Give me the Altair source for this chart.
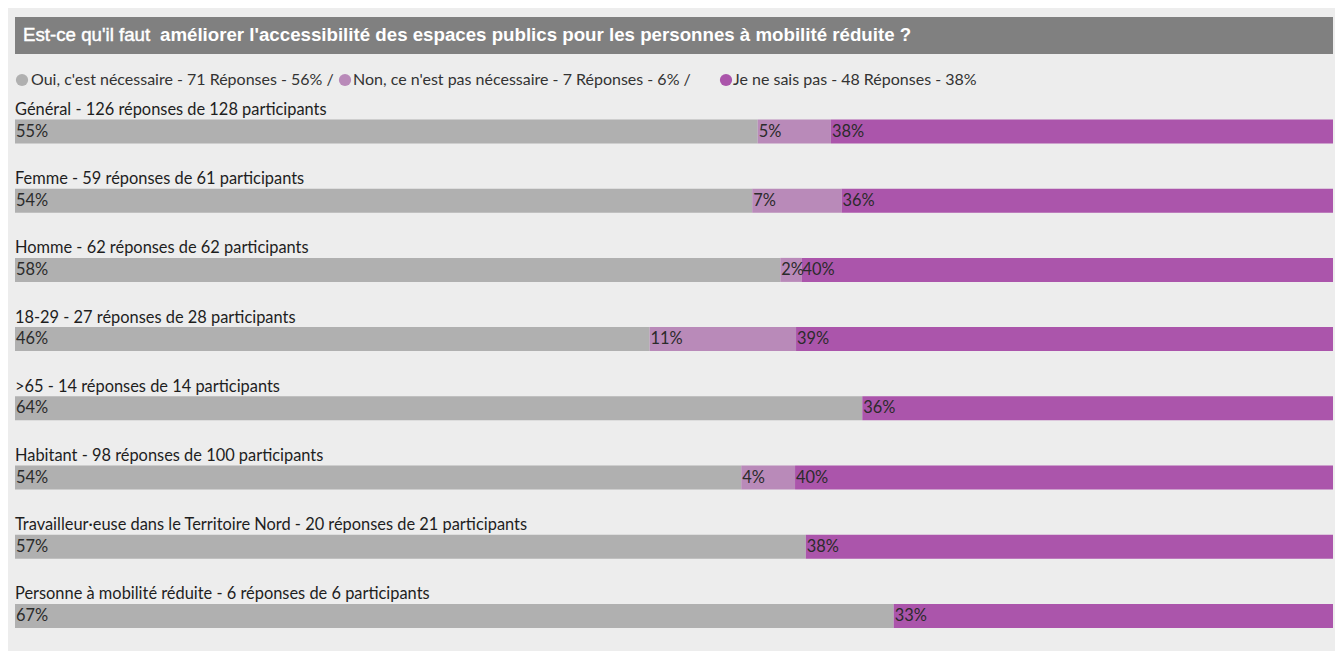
import altair as alt
import pandas as pd

# ---- data ----
rows = [
    "Général",
    "Femme",
    "Homme",
    "18-29",
    ">65",
    "Habitant",
    "Travailleur·euse dans le Territoire Nord",
    "Personne à mobilité réduite",
]
participants = [128, 61, 62, 28, 14, 100, 21, 6]
oui = [71, 33, 36, 13, 9, 54, 12, 4]
non = [7, 4, 1, 3, 0, 4, 0, 0]
nsp = [48, 22, 25, 11, 5, 40, 8, 2]

answers = ["Oui, c'est nécessaire", "Non, ce n'est pas nécessaire", "Je ne sais pas"]
answer_colors = ["#b0b0b0", "#b98ab9", "#ab55ab"]
legend_labels = [
    "Oui, c'est nécessaire - 71 Réponses - 56% / ",
    "Non, ce n'est pas nécessaire - 7 Réponses - 6% / ",
    "Je ne sais pas - 48 Réponses - 38%",
]
title_part1 = "Est-ce qu'il faut"
title_part2 = "améliorer l'accessibilité des espaces publics pour les personnes à mobilité réduite ?"

# ---- tables ----
records = []
for i, r in enumerate(rows):
    for k, vals in enumerate([oui, non, nsp]):
        records.append({"row": i, "answer": answers[k], "order": k,
                        "count": vals[i], "participants": participants[i]})
df = pd.DataFrame(records)

labels_df = pd.DataFrame({
    "row": list(range(len(rows))),
    "label": [f"{r} - {oui[i] + non[i] + nsp[i]} réponses de {participants[i]} participants"
              for i, r in enumerate(rows)],
})

legend_df = pd.DataFrame({"text": legend_labels, "answer": answers,
                          "lx": [14, 337, 718], "tx": [23, 345, 725]})

W, H = 1327, 643
FONT = "Lato"
FS = 16.4

x_scale = alt.Scale(domain=[0, 1], range=[7, 1325], padding=0)
y_scale = alt.Scale(domain=[0, 7], range=[123.5, 607.9], padding=0)
color_scale = alt.Scale(domain=answers, range=answer_colors)
px_scale = alt.Scale(domain=[0, W], range=[0, W], padding=0)

base = alt.Chart(df).transform_stack(
    stack="count", groupby=["row"], as_=["x0", "x1"],
    offset="normalize", sort=[alt.SortField("order", "ascending")]
)

bars = base.mark_bar(height=24).encode(
    x=alt.X("x0:Q", scale=x_scale, axis=None),
    x2="x1:Q",
    y=alt.Y("row:Q", scale=y_scale, axis=None),
    color=alt.Color("answer:N", scale=color_scale, legend=None),
)

pct = base.transform_filter("datum.count > 0").transform_calculate(
    pct="round(datum.count / datum.participants * 100) + '%'"
).mark_text(align="left", baseline="middle", dx=1, font=FONT, fontSize=FS,
            color="#2b2b2b").encode(
    x=alt.X("x0:Q", scale=x_scale, axis=None),
    y=alt.Y("row:Q", scale=y_scale, axis=None),
    text="pct:N",
)

row_labels = alt.Chart(labels_df).mark_text(
    align="left", baseline="middle", dy=-21.5, font=FONT, fontSize=FS, color="#1e1e1e"
).encode(
    x=alt.value(7),
    y=alt.Y("row:Q", scale=y_scale, axis=None),
    text="label:N",
)

title_bar = alt.Chart(pd.DataFrame({"a": [0]})).mark_rect(color="#808080").encode(
    x=alt.value(7), x2=alt.value(1325), y=alt.value(9), y2=alt.value(46)
)
t1 = alt.Chart(pd.DataFrame({"t": [title_part1]})).mark_text(
    align="left", baseline="middle", font="Liberation Sans", fontSize=18.7,
    color="white", fontWeight="normal", stroke="white", strokeWidth=0.45
).encode(x=alt.value(15), y=alt.value(27), text="t:N")
t2 = alt.Chart(pd.DataFrame({"t": [title_part2]})).mark_text(
    align="left", baseline="middle", font="Liberation Sans", fontSize=18.7,
    color="white", fontWeight="bold"
).encode(x=alt.value(152), y=alt.value(27), text="t:N")

leg_dots = alt.Chart(legend_df).mark_circle(size=150, opacity=1).encode(
    x=alt.X("lx:Q", scale=px_scale, axis=None),
    y=alt.value(72),
    color=alt.Color("answer:N", scale=color_scale, legend=None),
)
leg_text = alt.Chart(legend_df).mark_text(
    align="left", baseline="middle", font=FONT, fontSize=16.0, color="#333333"
).encode(
    x=alt.X("tx:Q", scale=px_scale, axis=None),
    y=alt.value(72),
    text="text:N",
)

chart = alt.layer(
    title_bar, t1, t2, leg_dots, leg_text, bars, pct, row_labels
).resolve_scale(x="independent").properties(
    width=W, height=H, background="#ededed", padding=0,
    autosize=alt.AutoSizeParams(type="none"),
).configure_view(stroke=None)

chart.save("out.html", embed_options={"renderer": "svg", "actions": False})
